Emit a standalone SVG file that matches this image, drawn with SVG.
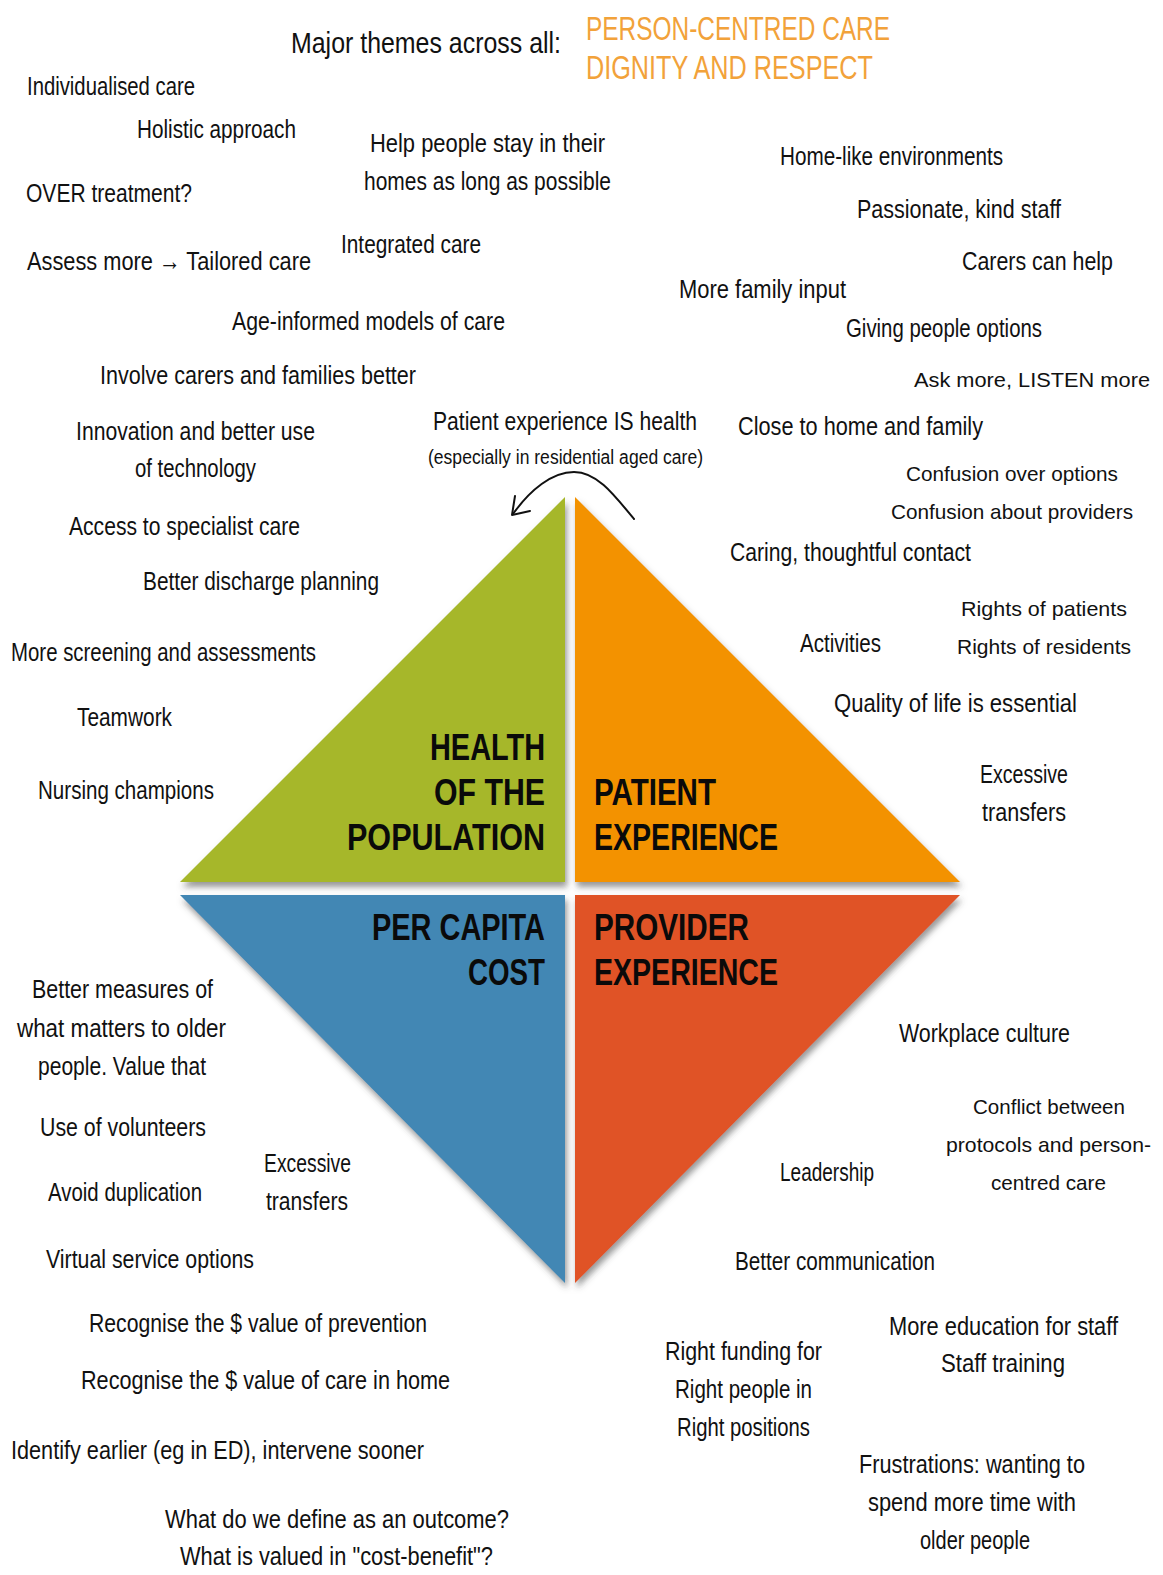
<svg xmlns="http://www.w3.org/2000/svg" width="1163" height="1575" viewBox="0 0 1163 1575">
<defs>
<style>
.h{font-family:"Liberation Sans",Arial,sans-serif;font-size:26px;fill:#111;}
.n{font-family:"Liberation Sans",Arial,sans-serif;font-size:21px;fill:#111;}
.s{font-family:"Liberation Sans",Arial,sans-serif;font-size:20px;fill:#111;}
.t{font-family:"Liberation Sans",Arial,sans-serif;font-size:30px;fill:#111;}
.o{font-family:"Liberation Sans",Arial,sans-serif;font-size:34px;fill:#F2A23A;}
.b{font-family:"Liberation Sans",Arial,sans-serif;font-size:36px;font-weight:bold;fill:#0a0a0a;}
.conn{fill:none;stroke:#111;stroke-width:2;stroke-linecap:round;stroke-linejoin:round;}
</style>
<filter id="sh" x="-10%" y="-10%" width="120%" height="125%">
<feDropShadow dx="2" dy="5" stdDeviation="3" flood-color="#444" flood-opacity="0.55"/>
</filter>
</defs>
<rect width="1163" height="1575" fill="#fff"/>

<g id="header">
<text class="t" x="291" y="53" textLength="270" lengthAdjust="spacingAndGlyphs">Major themes across all:</text>
<text class="o" x="586" y="40" textLength="304" lengthAdjust="spacingAndGlyphs">PERSON-CENTRED CARE</text>
<text class="o" x="586" y="79" textLength="287" lengthAdjust="spacingAndGlyphs">DIGNITY AND RESPECT</text>
</g>

<g id="quadrants" filter="url(#sh)">
<g id="health"><polygon points="180,882 565,497 565,882" fill="#A6B72A"/></g>
<g id="patient"><polygon points="575,497 575,882 960,882" fill="#F39200"/></g>
<g id="cost"><polygon points="180,895 565,895 565,1283" fill="#4287B4"/></g>
<g id="provider"><polygon points="575,895 960,895 575,1283" fill="#E05226"/></g>
</g>

<g id="quadrant-labels">
<text class="b" x="430" y="760" textLength="115" lengthAdjust="spacingAndGlyphs">HEALTH</text>
<text class="b" x="434" y="805" textLength="111" lengthAdjust="spacingAndGlyphs">OF THE</text>
<text class="b" x="347" y="850" textLength="198" lengthAdjust="spacingAndGlyphs">POPULATION</text>
<text class="b" x="594" y="805" textLength="122" lengthAdjust="spacingAndGlyphs">PATIENT</text>
<text class="b" x="594" y="850" textLength="184" lengthAdjust="spacingAndGlyphs">EXPERIENCE</text>
<text class="b" x="372" y="940" textLength="173" lengthAdjust="spacingAndGlyphs">PER CAPITA</text>
<text class="b" x="468" y="985" textLength="77" lengthAdjust="spacingAndGlyphs">COST</text>
<text class="b" x="594" y="940" textLength="155" lengthAdjust="spacingAndGlyphs">PROVIDER</text>
<text class="b" x="594" y="985" textLength="184" lengthAdjust="spacingAndGlyphs">EXPERIENCE</text>
</g>

<g id="connectors">
<path class="conn" d="M634,519 C612,492 596,472 574,472 C552,472 530,490 513,514"/>
<path class="conn" d="M515,496 L512,515 L530,511"/>
</g>

<g id="center-note">
<text class="h" x="433" y="430" textLength="264" lengthAdjust="spacingAndGlyphs">Patient experience IS health</text>
<text class="s" x="428" y="464" textLength="275" lengthAdjust="spacingAndGlyphs">(especially in residential aged care)</text>
</g>

<g id="top-left">
<text class="h" x="27" y="95" textLength="168" lengthAdjust="spacingAndGlyphs">Individualised care</text>
<text class="h" x="137" y="138" textLength="159" lengthAdjust="spacingAndGlyphs">Holistic approach</text>
<text class="h" x="26" y="202" textLength="166" lengthAdjust="spacingAndGlyphs">OVER treatment?</text>
<text class="h" x="27" y="270" textLength="284" lengthAdjust="spacingAndGlyphs">Assess more → Tailored care</text>
<text class="h" x="370" y="152" textLength="235" lengthAdjust="spacingAndGlyphs">Help people stay in their</text>
<text class="h" x="364" y="190" textLength="247" lengthAdjust="spacingAndGlyphs">homes as long as possible</text>
<text class="h" x="341" y="253" textLength="140" lengthAdjust="spacingAndGlyphs">Integrated care</text>
<text class="h" x="232" y="330" textLength="273" lengthAdjust="spacingAndGlyphs">Age-informed models of care</text>
<text class="h" x="100" y="384" textLength="316" lengthAdjust="spacingAndGlyphs">Involve carers and families better</text>
<text class="h" x="76" y="440" textLength="239" lengthAdjust="spacingAndGlyphs">Innovation and better use</text>
<text class="h" x="135" y="477" textLength="121" lengthAdjust="spacingAndGlyphs">of technology</text>
<text class="h" x="69" y="535" textLength="231" lengthAdjust="spacingAndGlyphs">Access to specialist care</text>
<text class="h" x="143" y="590" textLength="236" lengthAdjust="spacingAndGlyphs">Better discharge planning</text>
<text class="h" x="11" y="661" textLength="305" lengthAdjust="spacingAndGlyphs">More screening and assessments</text>
<text class="h" x="77" y="726" textLength="95" lengthAdjust="spacingAndGlyphs">Teamwork</text>
<text class="h" x="38" y="799" textLength="176" lengthAdjust="spacingAndGlyphs">Nursing champions</text>
</g>

<g id="top-right">
<text class="h" x="780" y="165" textLength="223" lengthAdjust="spacingAndGlyphs">Home-like environments</text>
<text class="h" x="857" y="218" textLength="204" lengthAdjust="spacingAndGlyphs">Passionate, kind staff</text>
<text class="h" x="962" y="270" textLength="151" lengthAdjust="spacingAndGlyphs">Carers can help</text>
<text class="h" x="679" y="298" textLength="167" lengthAdjust="spacingAndGlyphs">More family input</text>
<text class="h" x="846" y="337" textLength="196" lengthAdjust="spacingAndGlyphs">Giving people options</text>
<text class="n" x="914" y="387" textLength="236" lengthAdjust="spacingAndGlyphs">Ask more, LISTEN more</text>
<text class="h" x="738" y="435" textLength="245" lengthAdjust="spacingAndGlyphs">Close to home and family</text>
<text class="n" x="906" y="481" textLength="212" lengthAdjust="spacingAndGlyphs">Confusion over options</text>
<text class="n" x="891" y="519" textLength="242" lengthAdjust="spacingAndGlyphs">Confusion about providers</text>
<text class="h" x="730" y="561" textLength="241" lengthAdjust="spacingAndGlyphs">Caring, thoughtful contact</text>
<text class="n" x="961" y="616" textLength="166" lengthAdjust="spacingAndGlyphs">Rights of patients</text>
<text class="h" x="800" y="652" textLength="81" lengthAdjust="spacingAndGlyphs">Activities</text>
<text class="n" x="957" y="654" textLength="174" lengthAdjust="spacingAndGlyphs">Rights of residents</text>
<text class="h" x="834" y="712" textLength="243" lengthAdjust="spacingAndGlyphs">Quality of life is essential</text>
<text class="h" x="980" y="783" textLength="88" lengthAdjust="spacingAndGlyphs">Excessive</text>
<text class="h" x="982" y="821" textLength="84" lengthAdjust="spacingAndGlyphs">transfers</text>
</g>

<g id="bottom-left">
<text class="h" x="32" y="998" textLength="181" lengthAdjust="spacingAndGlyphs">Better measures of</text>
<text class="h" x="17" y="1037" textLength="209" lengthAdjust="spacingAndGlyphs">what matters to older</text>
<text class="h" x="38" y="1075" textLength="168" lengthAdjust="spacingAndGlyphs">people. Value that</text>
<text class="h" x="40" y="1136" textLength="166" lengthAdjust="spacingAndGlyphs">Use of volunteers</text>
<text class="h" x="48" y="1201" textLength="154" lengthAdjust="spacingAndGlyphs">Avoid duplication</text>
<text class="h" x="264" y="1172" textLength="87" lengthAdjust="spacingAndGlyphs">Excessive</text>
<text class="h" x="266" y="1210" textLength="82" lengthAdjust="spacingAndGlyphs">transfers</text>
<text class="h" x="46" y="1268" textLength="208" lengthAdjust="spacingAndGlyphs">Virtual service options</text>
<text class="h" x="89" y="1332" textLength="338" lengthAdjust="spacingAndGlyphs">Recognise the $ value of prevention</text>
<text class="h" x="81" y="1389" textLength="369" lengthAdjust="spacingAndGlyphs">Recognise the $ value of care in home</text>
<text class="h" x="11" y="1459" textLength="413" lengthAdjust="spacingAndGlyphs">Identify earlier (eg in ED), intervene sooner</text>
<text class="h" x="165" y="1528" textLength="344" lengthAdjust="spacingAndGlyphs">What do we define as an outcome?</text>
<text class="h" x="180" y="1565" textLength="313" lengthAdjust="spacingAndGlyphs">What is valued in "cost-benefit"?</text>
</g>

<g id="bottom-right">
<text class="h" x="899" y="1042" textLength="171" lengthAdjust="spacingAndGlyphs">Workplace culture</text>
<text class="n" x="973" y="1114" textLength="152" lengthAdjust="spacingAndGlyphs">Conflict between</text>
<text class="n" x="946" y="1152" textLength="205" lengthAdjust="spacingAndGlyphs">protocols and person-</text>
<text class="n" x="991" y="1190" textLength="115" lengthAdjust="spacingAndGlyphs">centred care</text>
<text class="h" x="780" y="1181" textLength="94" lengthAdjust="spacingAndGlyphs">Leadership</text>
<text class="h" x="735" y="1270" textLength="200" lengthAdjust="spacingAndGlyphs">Better communication</text>
<text class="h" x="889" y="1335" textLength="229" lengthAdjust="spacingAndGlyphs">More education for staff</text>
<text class="h" x="941" y="1372" textLength="124" lengthAdjust="spacingAndGlyphs">Staff training</text>
<text class="h" x="665" y="1360" textLength="157" lengthAdjust="spacingAndGlyphs">Right funding for</text>
<text class="h" x="675" y="1398" textLength="137" lengthAdjust="spacingAndGlyphs">Right people in</text>
<text class="h" x="677" y="1436" textLength="133" lengthAdjust="spacingAndGlyphs">Right positions</text>
<text class="h" x="859" y="1473" textLength="226" lengthAdjust="spacingAndGlyphs">Frustrations: wanting to</text>
<text class="h" x="868" y="1511" textLength="208" lengthAdjust="spacingAndGlyphs">spend more time with</text>
<text class="h" x="920" y="1549" textLength="110" lengthAdjust="spacingAndGlyphs">older people</text>
</g>
</svg>
